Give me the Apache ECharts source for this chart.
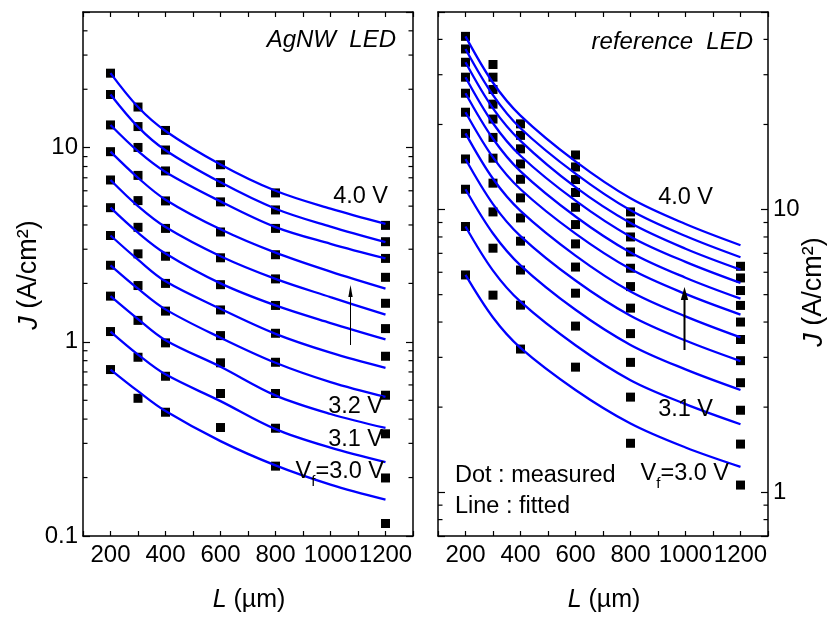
<!DOCTYPE html>
<html><head><meta charset="utf-8">
<script src="https://cdn.jsdelivr.net/npm/echarts@6/dist/echarts.min.js"></script>
<style>html,body{margin:0;padding:0;background:#fff}#c{width:832px;height:621px}</style>
</head><body><div id="c"></div>
<script>
// ---------- data ----------
const voltages = ['3.0 V','3.1 V','3.2 V','3.3 V','3.4 V','3.5 V','3.6 V','3.7 V','3.8 V','3.9 V','4.0 V'];
const measuredL = [200, 300, 400, 600, 800, 1200];
const fittedL = [200, 300, 400, 600, 800, 1000, 1200];

// AgNW LED, measured J (A/cm2); rows 3.0 V ... 4.0 V, columns = measuredL
const agnwMeasured = [
  [0.72, 0.512, 0.434, 0.362, 0.229, 0.116],
  [1.13, 0.833, 0.665, 0.542, 0.359, 0.199],
  [1.72, 1.29, 0.988, 0.78, 0.542, 0.336],
  [2.48, 1.95, 1.44, 1.077, 0.785, 0.531],
  [3.53, 2.84, 2.0, 1.46, 1.107, 0.843],
  [4.91, 3.89, 2.76, 1.97, 1.54, 1.17],
  [6.82, 5.34, 3.84, 2.71, 2.11, 1.58],
  [9.54, 7.20, 5.32, 3.68, 2.81, 2.15],
  [13.1, 10.03, 7.59, 5.26, 3.84, 2.69],
  [18.8, 12.85, 9.73, 6.61, 4.78, 3.28],
  [24.2, 16.2, 12.27, 8.17, 5.85, 3.98]
];
// AgNW LED, fitted J; columns = fittedL
const agnwFitted = [
  [0.72, 0.557, 0.44, 0.308, 0.231, 0.184, 0.154],
  [1.13, 0.86, 0.68, 0.495, 0.355, 0.285, 0.24],
  [1.72, 1.31, 1.02, 0.745, 0.53, 0.425, 0.36],
  [2.48, 1.88, 1.47, 1.05, 0.78, 0.62, 0.52],
  [3.53, 2.65, 2.05, 1.48, 1.1, 0.88, 0.735],
  [4.91, 3.65, 2.85, 2.0, 1.54, 1.25, 1.03],
  [6.82, 5.0, 3.9, 2.76, 2.11, 1.7, 1.38],
  [9.54, 7.0, 5.4, 3.8, 2.88, 2.3, 1.88],
  [13.1, 9.6, 7.5, 5.29, 3.9, 3.2, 2.69],
  [18.8, 12.8, 9.7, 6.63, 4.85, 3.92, 3.26],
  [24.2, 16.2, 12.2, 8.2, 6.0, 4.85, 4.05]
];
// reference LED, measured J
const refMeasured = [
  [5.87, 4.98, 3.21, 2.77, 1.49, 1.06],
  [8.71, 7.30, 4.59, 3.87, 2.17, 1.48],
  [11.8, 9.81, 6.11, 5.06, 2.88, 1.95],
  [15.1, 12.4, 7.73, 6.26, 3.64, 2.44],
  [18.6, 15.2, 9.34, 7.56, 4.48, 2.92],
  [22.1, 18.0, 11.0, 8.85, 5.34, 3.47],
  [25.8, 20.9, 12.8, 10.19, 6.20, 4.00],
  [29.4, 23.6, 14.5, 11.49, 7.08, 4.58],
  [33.2, 26.6, 16.4, 12.77, 8.00, 5.17],
  [37.0, 29.4, 18.3, 14.15, 8.97, 5.73],
  [41.0, 32.6, 20.1, 15.6, 9.81, 6.30]
];
// reference LED, fitted J
const refFitted = [
  [5.87, 4.15, 3.24, 2.30, 1.75, 1.44, 1.23],
  [8.71, 6.08, 4.72, 3.31, 2.49, 2.05, 1.74],
  [11.8, 8.23, 6.35, 4.42, 3.32, 2.72, 2.30],
  [15.1, 10.46, 8.06, 5.61, 4.21, 3.44, 2.91],
  [18.6, 12.85, 9.89, 6.87, 5.13, 4.19, 3.53],
  [22.1, 15.3, 11.8, 8.22, 6.16, 5.03, 4.25],
  [25.8, 17.8, 13.65, 9.45, 7.05, 5.74, 4.84],
  [29.4, 20.2, 15.5, 10.75, 8.02, 6.53, 5.50],
  [33.2, 22.8, 17.5, 12.0, 8.96, 7.27, 6.13],
  [37.0, 25.4, 19.4, 13.4, 9.94, 8.06, 6.78],
  [41.0, 28.1, 21.5, 14.8, 10.96, 8.89, 7.48]
];
// minor tick values of the log axes
const agnwMinorTicks = [0.2,0.3,0.4,0.5,0.6,0.7,0.8,0.9,2,3,4,5,6,7,8,9,20,30,40];
const refMinorTicks = [0.8,0.9,2,3,4,5,6,7,8,9,20,30,40];

// ---------- chart ----------
const FONT = "'Liberation Sans',Arial,sans-serif";
const BLACK = '#000';

function xAx(gridIndex, pos) {
  return {
    type: 'value', gridIndex, position: pos, min: 100, max: 1300, interval: 100,
    axisLine: {show: true, onZero: false, lineStyle: {color: BLACK, width: 1.5}},
    axisTick: {show: true, inside: true, length: 5, lineStyle: {color: BLACK, width: 1.2}},
    splitLine: {show: false},
    axisLabel: {
      show: pos === 'bottom', hideOverlap: false, color: BLACK, fontFamily: FONT, fontSize: 24, margin: 7,
      formatter: v => (v % 200 === 0 ? String(v) : '')
    }
  };
}
function yAx(gridIndex, pos, min, showLabel) {
  return {
    type: 'log', logBase: 10, gridIndex, position: pos, min, max: 50,
    axisLine: {show: true, onZero: false, lineStyle: {color: BLACK, width: 1.5}},
    axisTick: {show: true, inside: true, length: 7, lineStyle: {color: BLACK, width: 1.2}},
    minorTick: {show: false}, splitLine: {show: false},
    axisLabel: {
      show: showLabel, hideOverlap: false, color: BLACK, fontFamily: FONT, fontSize: 24, margin: 5,
      formatter: v => {
        const l = Math.log10(v);
        return Math.abs(l - Math.round(l)) < 1e-6 ? String(Number(v.toPrecision(6))) : '';
      }
    }
  };
}
function minorTickSeries(xi, yi, vals) {
  return {
    type: 'custom', xAxisIndex: xi, yAxisIndex: yi, silent: true, z: 5,
    data: vals.map(v => [100, v]), encode: {x: 0, y: 1},
    renderItem: (params, api) => {
      const v = api.value(1);
      const a = api.coord([100, v]), b = api.coord([1300, v]);
      return {type: 'group', children: [
        {type: 'line', shape: {x1: a[0], y1: a[1], x2: a[0] + 4.5, y2: a[1]}, style: {stroke: BLACK, lineWidth: 1.2}},
        {type: 'line', shape: {x1: b[0] - 4.5, y1: b[1], x2: b[0], y2: b[1]}, style: {stroke: BLACK, lineWidth: 1.2}}
      ]};
    }
  };
}
const series = [];
function addPanel(xi, yi, measured, fitted, minors) {
  series.push(minorTickSeries(xi, yi, minors));
  measured.forEach((row, i) => series.push({
    name: voltages[i] + ' measured', type: 'scatter', xAxisIndex: xi, yAxisIndex: yi,
    symbol: 'rect', symbolSize: 9, itemStyle: {color: BLACK, opacity: 1}, z: 3,
    data: measuredL.map((L, j) => [L, row[j]])
  }));
  fitted.forEach((row, i) => series.push({
    name: voltages[i] + ' fitted', type: 'line', xAxisIndex: xi, yAxisIndex: yi,
    smooth: 0.35, showSymbol: false, symbol: 'none',
    lineStyle: {color: '#0000ff', width: 2.3, opacity: 1}, z: 4,
    data: fittedL.map((L, j) => [L, row[j]])
  }));
}
addPanel(0, 0, agnwMeasured, agnwFitted, agnwMinorTicks);
addPanel(2, 3, refMeasured, refFitted, refMinorTicks);

function txt(x, y, text, opts) {
  return {type: 'text', x, y, z: 20, style: Object.assign({
    text, fill: BLACK, fontFamily: FONT, fontSize: 23.5, align: 'right', verticalAlign: 'middle'
  }, opts || {})};
}
const vfRich = {
  n: {fontFamily: FONT, fontSize: 23.5, lineHeight: 34, verticalAlign: 'middle'},
  s: {fontFamily: FONT, fontSize: 15, lineHeight: 34, verticalAlign: 'bottom'}
};
const jRich = {i: {fontFamily: FONT, fontSize: 27, fontStyle: 'italic'}};
const lRich = {i: {fontFamily: FONT, fontSize: 25, fontStyle: 'italic'}};

const graphic = [
  txt(396, 40, 'AgNW  LED', {fontStyle: 'italic', fontSize: 24}),
  txt(753, 42, 'reference  LED', {fontStyle: 'italic', fontSize: 24}),
  txt(388, 197, '4.0 V'),
  txt(383, 407, '3.2 V'),
  txt(383, 440, '3.1 V'),
  txt(384, 472, '{n|V}{s|f}{n|=3.0 V}', {rich: vfRich}),
  txt(713, 198, '4.0 V'),
  txt(713, 410, '3.1 V'),
  txt(729, 474, '{n|V}{s|f}{n|=3.0 V}', {rich: vfRich}),
  txt(455, 476, 'Dot : measured', {align: 'left'}),
  txt(455, 507, 'Line : fitted', {align: 'left'}),
  {type: 'text', x: 29, y: 275, rotation: Math.PI / 2, z: 20,
   style: {text: '{i|J} (A/cm²)', rich: jRich, fill: BLACK, fontFamily: FONT, fontSize: 27, align: 'center', verticalAlign: 'middle'}},
  {type: 'text', x: 814, y: 292, rotation: Math.PI / 2, z: 20,
   style: {text: '{i|J} (A/cm²)', rich: jRich, fill: BLACK, fontFamily: FONT, fontSize: 27, align: 'center', verticalAlign: 'middle'}},
  {type: 'text', x: 249, y: 600, z: 20,
   style: {text: '{i|L} (µm)', rich: lRich, fill: BLACK, fontFamily: FONT, fontSize: 25, align: 'center', verticalAlign: 'middle'}},
  {type: 'text', x: 604, y: 600, z: 20,
   style: {text: '{i|L} (µm)', rich: lRich, fill: BLACK, fontFamily: FONT, fontSize: 25, align: 'center', verticalAlign: 'middle'}},
  // arrows
  {type: 'line', z: 20, shape: {x1: 350.5, y1: 345, x2: 350.5, y2: 294}, style: {stroke: BLACK, lineWidth: 1}},
  {type: 'polygon', z: 20, shape: {points: [[350.5, 285], [348.3, 297], [352.7, 297]]}, style: {fill: BLACK}},
  {type: 'line', z: 20, shape: {x1: 684.5, y1: 350, x2: 684.5, y2: 298}, style: {stroke: BLACK, lineWidth: 2}},
  {type: 'polygon', z: 20, shape: {points: [[684.5, 287], [680.8, 300], [688.2, 300]]}, style: {fill: BLACK}}
];

const option = {
  animation: false,
  backgroundColor: '#fff',
  grid: [
    {left: 83, top: 12, width: 330, height: 524, outerBoundsMode: 'none', containLabel: false},
    {left: 438, top: 12, width: 330, height: 524, outerBoundsMode: 'none', containLabel: false}
  ],
  xAxis: [xAx(0, 'bottom'), xAx(0, 'top'), xAx(1, 'bottom'), xAx(1, 'top')],
  yAxis: [yAx(0, 'left', 0.1, true), yAx(0, 'right', 0.1, false), yAx(1, 'left', 0.7, false), yAx(1, 'right', 0.7, true)],
  series,
  graphic
};
const chart = echarts.init(document.getElementById('c'));
chart.setOption(option);
</script>
</body></html>
